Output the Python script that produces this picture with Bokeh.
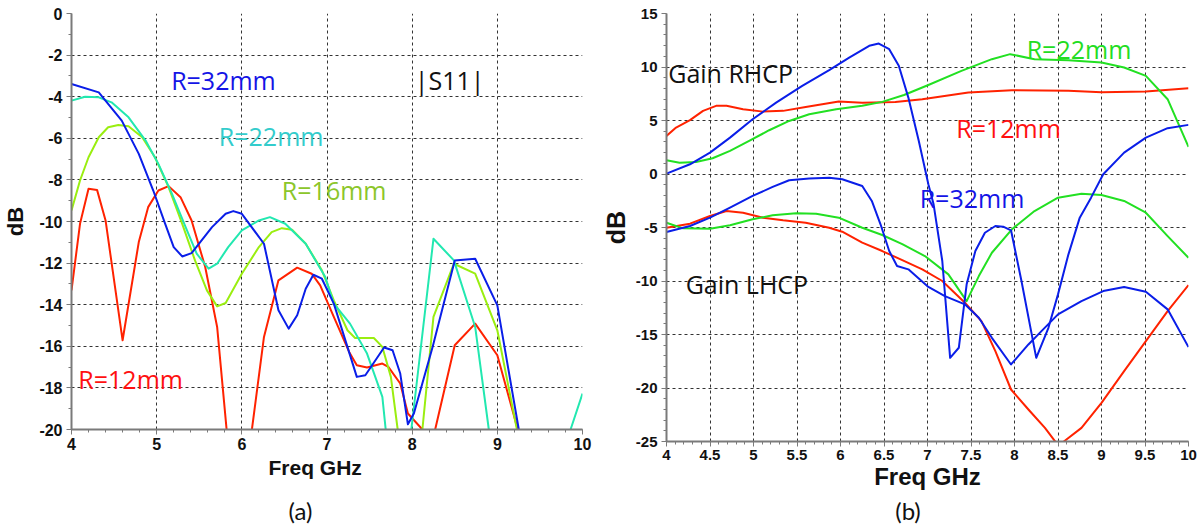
from bokeh.plotting import figure
from bokeh.layouts import row, column
from bokeh.models import FixedTicker, Label, Range1d, Title
from bokeh.core.properties import value
from bokeh.embed import file_html
from bokeh.resources import INLINE

# ---------------- (a) |S11| data ----------------
s_r32_f = [4.0, 4.32, 4.59, 4.79, 4.96, 5.10, 5.20, 5.30, 5.41, 5.65, 5.81, 5.90, 6.00, 6.26, 6.43, 6.55, 6.65,
           6.75, 6.84, 6.94, 7.08, 7.24, 7.35, 7.45, 7.67, 7.77, 7.86, 7.95, 8.02, 8.24, 8.50, 8.74, 9.00, 9.25, 9.30]
s_r32_db = [-3.39, -3.79, -5.15, -6.75, -8.51, -10.11, -11.23, -11.68, -11.52, -10.27, -9.63, -9.50, -9.63, -11.07,
            -14.27, -15.15, -14.51, -13.23, -12.56, -12.75, -13.95, -16.03, -17.47, -17.39, -16.06, -16.19, -17.31,
            -19.75, -19.23, -16.03, -11.87, -11.79, -14.03, -19.95, -22.0]

s_r22_f = [4.0, 4.16, 4.32, 4.47, 4.67, 4.87, 5.02, 5.18, 5.34, 5.47, 5.61, 5.71, 5.84, 6.00, 6.20, 6.33, 6.51, 6.75,
           6.98, 7.08, 7.27, 7.47, 7.65, 7.69, 7.75, 7.93, 7.99, 8.25, 8.49, 8.74, 8.90, 8.95, 9.80, 9.86, 10.0]
s_r22_db = [-4.19, -4.0, -4.03, -4.27, -4.99, -6.11, -7.23, -8.67, -10.27, -11.55, -12.27, -12.03, -11.23, -10.43,
            -9.95, -9.79, -10.11, -11.07, -12.67, -13.95, -14.91, -16.35, -18.43, -20.03, -23.0, -23.0, -20.0,
            -10.83, -11.87, -15.07, -20.0, -23.0, -23.0, -20.0, -18.27]

s_r16_f = [4.0, 4.10, 4.20, 4.32, 4.43, 4.55, 4.67, 4.83, 4.98, 5.14, 5.30, 5.45, 5.59, 5.71, 5.81, 6.00, 6.20, 6.35,
           6.47, 6.59, 6.75, 6.94, 7.08, 7.24, 7.33, 7.55, 7.65, 7.75, 7.83, 7.90, 8.05, 8.12, 8.25, 8.49, 8.74, 9.00,
           9.23, 9.28]
s_r16_db = [-9.47, -8.03, -6.91, -5.95, -5.47, -5.36, -5.42, -5.95, -6.91, -8.35, -10.11, -11.87, -13.31, -14.08,
            -13.92, -12.51, -11.23, -10.51, -10.32, -10.40, -11.07, -12.35, -13.79, -15.23, -15.6, -15.6, -16.03,
            -17.47, -20.0, -23.0, -23.0, -20.0, -14.59, -12.03, -12.51, -15.23, -20.0, -22.0]

s_r12_f = [4.0, 4.10, 4.20, 4.30, 4.40, 4.60, 4.79, 4.90, 5.02, 5.14, 5.28, 5.41, 5.57, 5.71, 5.82, 5.90, 6.05, 6.12,
           6.26, 6.43, 6.65, 6.82, 6.92, 7.08, 7.26, 7.35, 7.47, 7.65, 7.72, 7.86, 7.95, 8.12, 8.18, 8.22, 8.27, 8.50,
           8.74, 9.00, 9.24, 9.28]
s_r12_db = [-13.31, -10.11, -8.43, -8.48, -9.95, -15.71, -10.99, -9.31, -8.51, -8.30, -8.83, -9.95, -12.19, -15.07,
            -19.95, -24.0, -24.0, -19.95, -15.55, -12.83, -12.22, -12.51, -13.07, -14.59, -16.27, -16.91, -17.02,
            -16.83, -16.99, -17.79, -19.23, -20.0, -21.5, -21.5, -20.0, -15.95, -14.91, -16.43, -20.0, -22.0]

# ---------------- (b) Gain data ----------------
g_r32_rhcp_f = [4.0, 4.27, 4.50, 4.73, 4.99, 5.26, 5.56, 5.87, 6.10, 6.33, 6.44, 6.56, 6.67, 6.78, 6.90, 7.01, 7.07,
                7.17, 7.26, 7.36, 7.45, 7.55, 7.66, 7.78, 7.87, 7.96, 8.08, 8.25, 8.39, 8.50, 8.62, 8.75, 8.88, 9.02,
                9.26, 9.51, 9.76, 10.0]
g_r32_rhcp = [0.03, 0.91, 2.0, 3.40, 5.12, 6.67, 8.24, 9.71, 10.88, 11.98, 12.19, 11.67, 10.11, 7.14, 3.09, -0.96,
              -2.83, -8.13, -17.18, -16.24, -10.31, -7.2, -5.49, -4.86, -4.92, -5.26, -10.0, -17.18, -14.37, -11.25,
              -7.51, -4.08, -2.21, -0.02, 2.0, 3.40, 4.28, 4.59]

g_r32_lhcp_f = [4.0, 4.27, 4.50, 4.73, 4.99, 5.22, 5.41, 5.64, 5.87, 6.02, 6.25, 6.36, 6.46, 6.56, 6.65, 6.78, 7.01,
                7.20, 7.43, 7.59, 7.74, 7.96, 8.16, 8.31, 8.50, 8.77, 9.02, 9.26, 9.51, 9.76, 10.0]
g_r32_lhcp = [-5.42, -4.86, -4.08, -3.15, -2.05, -1.21, -0.58, -0.43, -0.34, -0.49, -1.12, -2.52, -4.70, -7.2, -8.6,
              -8.91, -10.55, -11.41, -12.18, -13.44, -15.31, -17.80, -15.93, -14.68, -13.12, -11.88, -10.94, -10.57,
              -11.01, -12.65, -16.18]

g_r12_rhcp_f = [4.0, 4.11, 4.27, 4.42, 4.57, 4.69, 4.88, 5.11, 5.34, 5.60, 5.98, 6.25, 6.63, 6.94, 7.47, 7.97, 8.62,
                9.00, 9.51, 10.0]
g_r12_rhcp = [3.56, 4.34, 5.03, 5.90, 6.37, 6.37, 6.06, 5.83, 5.90, 6.27, 6.77, 6.65, 6.74, 6.99, 7.61, 7.83, 7.77,
              7.65, 7.70, 8.02]

g_r12_lhcp_f = [4.0, 4.27, 4.50, 4.69, 4.88, 5.11, 5.34, 5.60, 5.87, 6.02, 6.25, 6.48, 6.71, 6.94, 7.17, 7.43, 7.62,
                7.78, 7.96, 8.16, 8.35, 8.48, 8.56, 8.77, 9.00, 9.26, 9.51, 9.76, 10.0]
g_r12_lhcp = [-5.02, -4.64, -3.92, -3.46, -3.62, -4.08, -4.33, -4.55, -5.02, -5.39, -6.42, -7.2, -8.05, -8.91, -10.0,
              -12.03, -13.75, -16.55, -20.14, -22.01, -23.73, -25.13, -25.04, -23.73, -21.39, -18.42, -15.62, -12.81,
              -10.38]

g_r22_rhcp_f = [4.0, 4.15, 4.34, 4.53, 4.73, 4.95, 5.18, 5.41, 5.64, 5.95, 6.25, 6.48, 6.73, 7.01, 7.39, 7.74, 7.95,
                8.23, 8.62, 9.00, 9.26, 9.51, 9.76, 10.0]
g_r22_rhcp = [1.29, 1.06, 1.13, 1.47, 2.16, 3.09, 4.09, 4.96, 5.59, 6.06, 6.37, 6.74, 7.38, 8.32, 9.64, 10.73, 11.20,
              10.73, 10.64, 10.42, 9.95, 9.17, 6.99, 2.53]

g_r22_lhcp_f = [4.0, 4.19, 4.50, 4.73, 4.99, 5.22, 5.49, 5.72, 5.98, 6.25, 6.48, 6.71, 6.97, 7.24, 7.45, 7.59, 7.74,
                7.97, 8.23, 8.50, 8.77, 9.00, 9.26, 9.51, 9.76, 10.0]
g_r22_lhcp = [-4.55, -5.08, -5.11, -4.79, -4.23, -3.86, -3.67, -3.71, -4.08, -5.02, -5.70, -6.55, -7.67, -9.38, -11.88,
              -9.54, -7.36, -5.17, -3.46, -2.21, -1.84, -1.96, -2.52, -3.62, -5.80, -7.83]

# ---------------- ticks / captions ----------------
a_xticks = [4, 5, 6, 7, 8, 9, 10]
a_xlabels = ["4", "5", "6", "7", "8", "9", "10"]
a_yticks = [0, -2, -4, -6, -8, -10, -12, -14, -16, -18, -20]
a_ylabels = ["0", "-2", "-4", "-6", "-8", "-10", "-12", "-14", "-16", "-18", "-20"]
b_xticks = [4, 4.5, 5, 5.5, 6, 6.5, 7, 7.5, 8, 8.5, 9, 9.5, 10]
b_xlabels = ["4", "4.5", "5", "5.5", "6", "6.5", "7", "7.5", "8", "8.5", "9", "9.5", "10"]
b_yticks = [15, 10, 5, 0, -5, -10, -15, -20, -25]
b_ylabels = ["15", "10", "5", "0", "-5", "-10", "-15", "-20", "-25"]
captions = ["(a)", "(b)"]

BLUE = "#0a1ee8"
TEAL = "#22e8b0"
YGREEN = "#9aee10"
RED = "#ff2200"
GREEN = "#22e022"
ANN_FONT = "Open Sans"
CAP_FONT = "Lato"
AX_FONT = "Liberation Sans"

BOTTOM = 54                 # shared bottom border of both plots
H_RIGHT = 441 + BOTTOM      # frame (b) ends at y=441
H_LEFT = 429 + BOTTOM       # frame (a) ends at y=429


def minor_list(lo, hi, step):
    n = int(round((hi - lo) / step))
    return [round(lo + i * step, 4) for i in range(n + 1)]


def style(p, xt, xl, xminor, yt, yl, yminor, tick_fs):
    p.outline_line_color = None
    p.background_fill_color = "white"
    p.border_fill_color = "white"
    for ax, t, l, mn in ((p.xaxis[0], xt, xl, xminor), (p.yaxis[0], yt, yl, yminor)):
        ax.ticker = FixedTicker(ticks=t, minor_ticks=mn)
        ax.major_label_overrides = {tv: lab for tv, lab in zip(t, l)}
        ax.axis_line_color = "#7a7a7a"
        ax.axis_line_width = 2
        ax.major_tick_line_color = "#7a7a7a"
        ax.minor_tick_line_color = "#7a7a7a"
        ax.major_tick_in = 0
        ax.major_tick_out = 5
        ax.minor_tick_in = 0
        ax.minor_tick_out = 3
        ax.major_label_text_font = AX_FONT
        ax.major_label_text_font_style = "bold"
        ax.major_label_text_font_size = tick_fs
        ax.major_label_text_color = "#111111"
        ax.axis_label_text_font = AX_FONT
        ax.axis_label_text_font_style = "bold"
        ax.axis_label_text_color = "#111111"
    p.xaxis[0].major_label_standoff = 3
    p.yaxis[0].major_label_standoff = 4
    p.xgrid[0].ticker = FixedTicker(ticks=xt)
    p.ygrid[0].ticker = FixedTicker(ticks=yt)
    for g in (p.xgrid[0], p.ygrid[0]):
        g.grid_line_color = "#333333"
        g.grid_line_dash = "3 3"
        g.grid_line_width = 1


# ---------------- figure (a) ----------------
pa = figure(width=598, height=H_LEFT, x_range=Range1d(4, 10), y_range=Range1d(-20, 0),
            output_backend="svg", toolbar_location=None,
            min_border_left=71, min_border_right=16, min_border_top=13, min_border_bottom=BOTTOM)
style(pa, a_xticks, a_xlabels, minor_list(4, 10, 0.2), a_yticks, a_ylabels, minor_list(-20, 0, 1), "16px")
pa.yaxis[0].axis_label = "dB"
pa.yaxis[0].axis_label_text_font_size = "22px"
pa.yaxis[0].axis_label_standoff = 8

pa.line(s_r12_f, s_r12_db, line_color=RED, line_width=2, line_join="round")
pa.line(s_r16_f, s_r16_db, line_color=YGREEN, line_width=2, line_join="round")
pa.line(s_r22_f, s_r22_db, line_color=TEAL, line_width=2, line_join="round")
pa.line(s_r32_f, s_r32_db, line_color=BLUE, line_width=2, line_join="round")

for txt, x, y, c in (("R=32mm", 5.17, -3.2, "#1414e6"), ("|S11|", 8.03, -3.2, "#111111"),
                     ("R=22mm", 5.73, -5.87, "#33cccc"), ("R=16mm", 6.47, -8.5, "#8cc62a"),
                     ("R=12mm", 4.08, -17.55, "#ff1010")):
    pa.add_layout(Label(x=x, y=y, text=txt, text_color=c, text_font=ANN_FONT, text_font_size="25px",
                        text_baseline="alphabetic", text_align="left"))

pa.add_layout(Title(text="Freq GHz", align="left", offset=197, standoff=2, text_font=AX_FONT,
                    text_font_style="bold", text_font_size="21px", text_color="#111111"), "below")

# ---------------- figure (b) ----------------
pb = figure(width=604, height=H_RIGHT, x_range=Range1d(4, 10), y_range=Range1d(-25, 15),
            output_backend="svg", toolbar_location=None,
            min_border_left=65, min_border_right=14, min_border_top=13, min_border_bottom=BOTTOM)
style(pb, b_xticks, b_xlabels, minor_list(4, 10, 0.1), b_yticks, b_ylabels, minor_list(-25, 15, 1), "15px")
pb.yaxis[0].axis_label = "dB"
pb.yaxis[0].axis_label_text_font_size = "25px"
pb.yaxis[0].axis_label_standoff = 3
pb.xaxis[0].axis_label = "Freq GHz"
pb.xaxis[0].axis_label_text_font_size = "24px"
pb.xaxis[0].axis_label_standoff = 0

pb.line(g_r12_rhcp_f, g_r12_rhcp, line_color=RED, line_width=2, line_join="round")
pb.line(g_r12_lhcp_f, g_r12_lhcp, line_color=RED, line_width=2, line_join="round")
pb.line(g_r22_rhcp_f, g_r22_rhcp, line_color=GREEN, line_width=2, line_join="round")
pb.line(g_r22_lhcp_f, g_r22_lhcp, line_color=GREEN, line_width=2, line_join="round")
pb.line(g_r32_rhcp_f, g_r32_rhcp, line_color=BLUE, line_width=2, line_join="round")
pb.line(g_r32_lhcp_f, g_r32_lhcp, line_color=BLUE, line_width=2, line_join="round")

for txt, x, y, c in (("Gain RHCP", 4.02, 9.48, "#111111"), ("Gain LHCP", 4.22, -10.31, "#111111"),
                     ("R=22mm", 8.14, 11.67, "#22dd22"), ("R=12mm", 7.33, 4.34, "#ff1010"),
                     ("R=32mm", 6.91, -2.27, "#1414e6")):
    pb.add_layout(Label(x=x, y=y, text=txt, text_color=c, text_font=ANN_FONT, text_font_size="25px",
                        text_baseline="alphabetic", text_align="left"))

# ---------------- caption strip ----------------
cap_h = 526 - H_RIGHT
strip = figure(width=1202, height=cap_h, x_range=Range1d(0, 1202), y_range=Range1d(cap_h, 0),
               output_backend="svg", toolbar_location=None, x_axis_location=None, y_axis_location=None,
               min_border=0)
strip.outline_line_color = None
strip.xgrid.visible = False
strip.ygrid.visible = False
strip.text(x=[300, 907.5], y=[cap_h / 2 - 1, cap_h / 2 - 1], text=captions, text_align="center",
           text_baseline="middle", text_font=value(CAP_FONT), text_font_size="24px", text_color="#111111")

layout = column(row(pa, pb), strip)
open("out.html", "w").write(file_html(layout, INLINE))
